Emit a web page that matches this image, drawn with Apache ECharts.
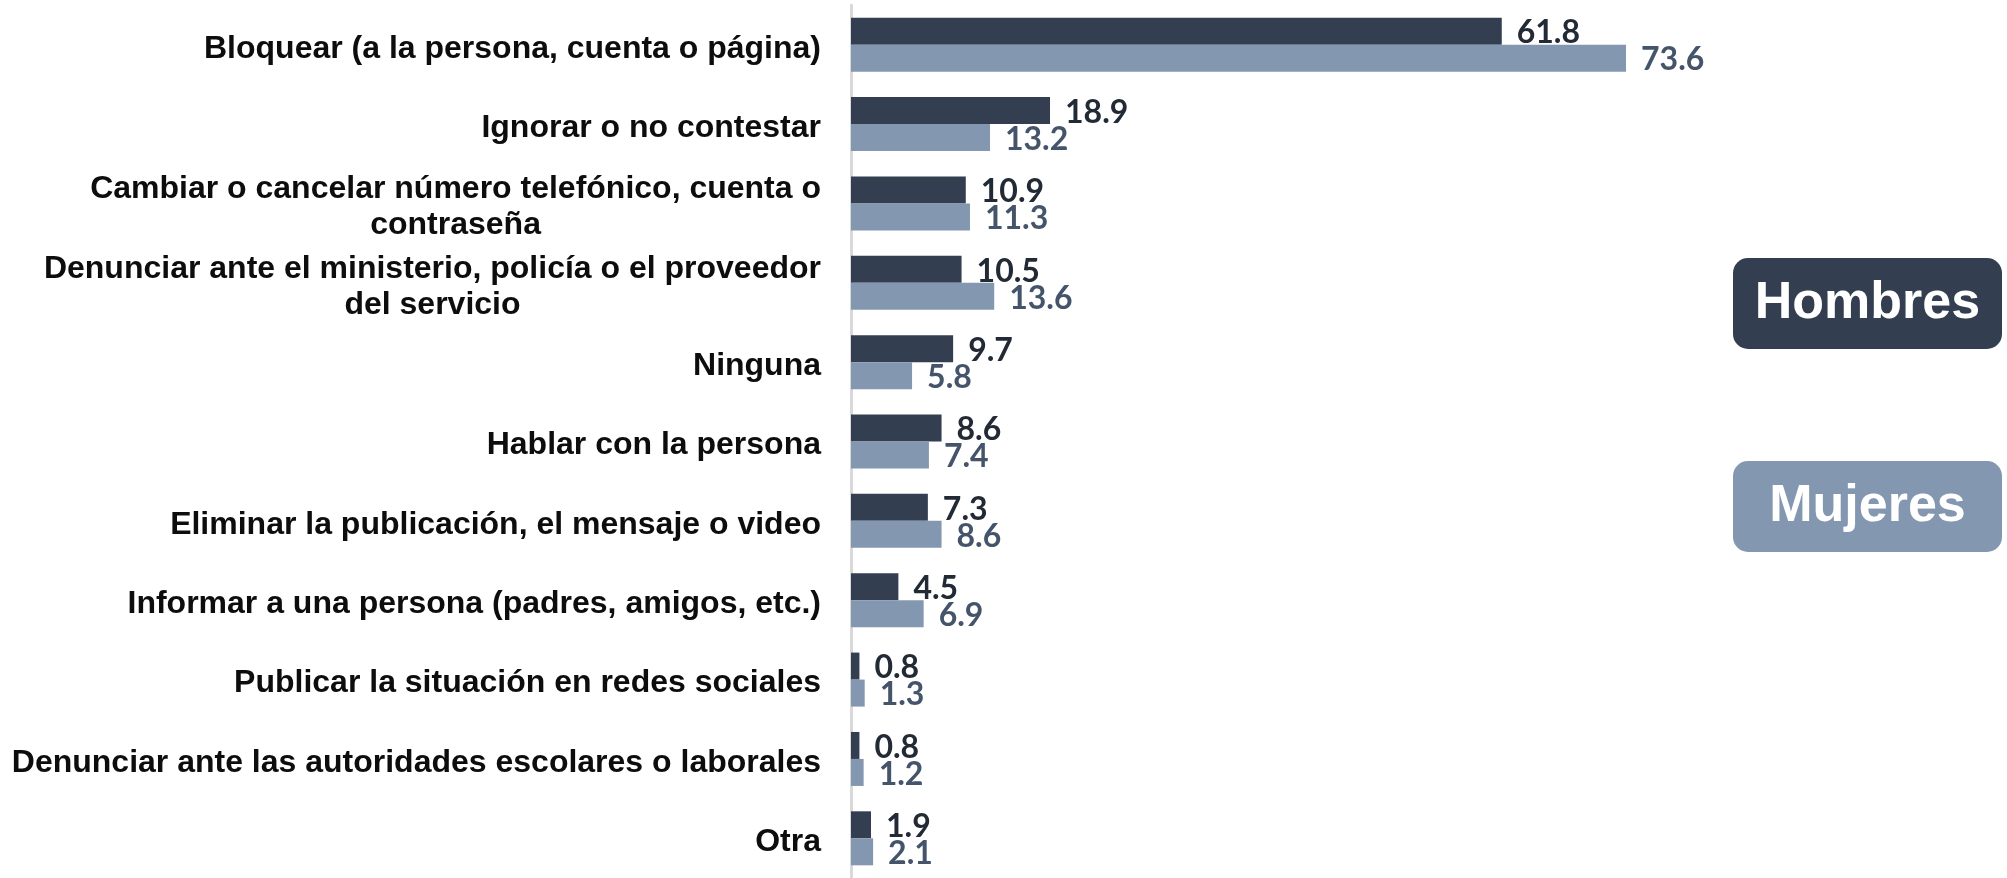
<!DOCTYPE html>
<html>
<head>
<meta charset="utf-8">
<script src="https://cdn.jsdelivr.net/npm/echarts@6/dist/echarts.min.js"></script>
<style>
  html, body { margin: 0; padding: 0; background: #ffffff; }
  #chart { width: 2007px; height: 878px; }
</style>
</head>
<body>
<div id="chart"></div>
<script>
// Acciones tomadas ante el ciberacoso, por sexo (%)
const categories = [
  'Bloquear (a la persona, cuenta o página)',
  'Ignorar o no contestar',
  'Cambiar o cancelar número telefónico, cuenta o\ncontraseña',
  'Denunciar ante el ministerio, policía o el proveedor\ndel servicio',
  'Ninguna',
  'Hablar con la persona',
  'Eliminar la publicación, el mensaje o video',
  'Informar a una persona (padres, amigos, etc.)',
  'Publicar la situación en redes sociales',
  'Denunciar ante las autoridades escolares o laborales',
  'Otra'
];
const seriesNames = ['Hombres', 'Mujeres'];
const hombres = [61.8, 18.9, 10.9, 10.5, 9.7, 8.6, 7.3, 4.5, 0.8, 0.8, 1.9];
const mujeres = [73.6, 13.2, 11.3, 13.6, 5.8, 7.4, 8.6, 6.9, 1.3, 1.2, 2.1];

const barColors = ['#333f50', '#8497b0'];
const labelColors = ['#222a35', '#44546a'];

const chart = echarts.init(document.getElementById('chart'), null, { renderer: 'canvas' });

function makeSeries(name, data, idx) {
  return {
    name: name,
    type: 'bar',
    data: data,
    barWidth: 27,
    barGap: '0%',
    itemStyle: { color: barColors[idx] },
    label: {
      show: true,
      position: 'right',
      distance: 15,
      offset: [0, 2],
      fontFamily: 'Lato',
      fontWeight: 'bold',
      fontSize: 32,
      color: labelColors[idx],
      formatter: p => p.value.toFixed(1)
    },
    animation: false
  };
}

// Legend boxes on the right side
const legendBoxes = [];
seriesNames.forEach((name, i) => {
  const top = i === 0 ? 258 : 461;
  legendBoxes.push({
    type: 'group',
    left: 1733,
    top: top,
    children: [
      {
        type: 'rect',
        shape: { x: 0, y: 0, width: 269, height: 91, r: 15 },
        style: { fill: barColors[i] }
      },
      {
        type: 'text',
        x: 134.5,
        y: 46,
        style: {
          text: name,
          fill: '#ffffff',
          fontFamily: 'Liberation Sans, Arial, sans-serif',
          fontWeight: 'bold',
          fontSize: 52,
          align: 'center',
          verticalAlign: 'middle'
        }
      }
    ]
  });
});

chart.setOption({
  backgroundColor: '#ffffff',
  animation: false,
  grid: { left: 851, top: 5, width: 1053, bottom: -10, containLabel: false },
  xAxis: {
    type: 'value',
    min: 0,
    max: 100,
    show: false,
    splitLine: { show: false }
  },
  yAxis: {
    type: 'category',
    data: categories,
    inverse: true,
    axisTick: { show: false },
    axisLine: { show: true, lineStyle: { color: '#d9d9d9', width: 3 } },
    axisLabel: {
      margin: 30,
      align: 'right',
      padding: [8, 0, 0, 0],
      formatter: v => v.split('\n').map(l => '{c|' + l + '}').join('\n'),
      rich: {
        c: {
          fontFamily: 'Liberation Sans, Arial, sans-serif',
          fontWeight: 'bold',
          fontSize: 32,
          lineHeight: 36,
          color: '#0d0d0d',
          align: 'center'
        }
      }
    }
  },
  series: [
    makeSeries(seriesNames[0], hombres, 0),
    makeSeries(seriesNames[1], mujeres, 1)
  ],
  graphic: legendBoxes
});
</script>
</body>
</html>
